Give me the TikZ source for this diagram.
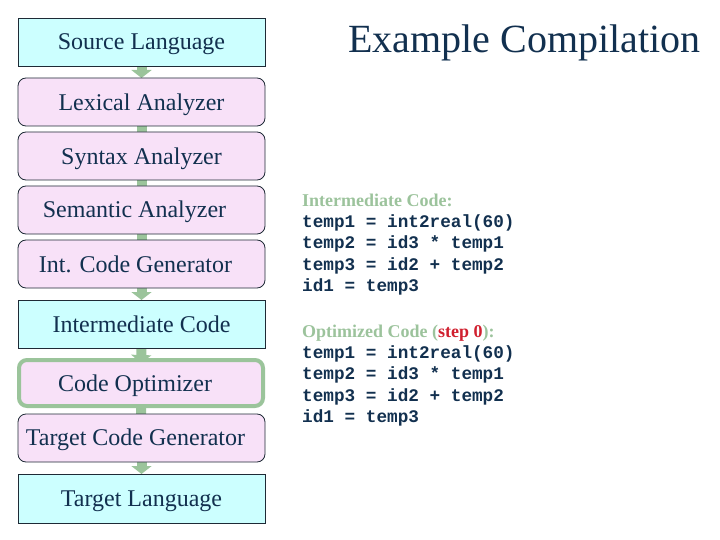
\documentclass[tikz,border=0pt]{standalone}
\usepackage{fontspec}
\setmainfont{Liberation Serif}
\setmonofont{Liberation Mono}
\usetikzlibrary{arrows.meta,backgrounds}
\definecolor{cyanfill}{HTML}{CCFFFF}
\definecolor{pinkfill}{HTML}{F8E1F8}
\definecolor{gflow}{HTML}{9BC49B}
\definecolor{navy}{HTML}{12304F}
\definecolor{boxline}{HTML}{1E2A36}
\definecolor{lblgreen}{HTML}{9CC39C}
\definecolor{stepred}{HTML}{D0202F}
\tikzset{
  box/.style={minimum width=247pt,minimum height=48pt,inner sep=0pt,outer sep=0pt,draw=boxline,line width=0.8pt},
  datbox/.style={box,fill=cyanfill},
  phasebox/.style={box,fill=pinkfill,rounded corners=8pt},
  optbox/.style={box,fill=pinkfill,rounded corners=8pt,draw=gflow,line width=4pt,minimum width=244pt,minimum height=46pt},
  boxtext/.style={anchor=base,font=\fontsize{24}{28}\selectfont,text=navy,inner sep=0pt},
  flow/.style={draw=gflow,line width=10pt,-{Triangle[width=20pt,length=8pt]}},
  code/.style={anchor=base west,inner sep=0pt,font=\ttfamily\bfseries\fontsize{17.7}{21}\selectfont,text=navy},
  codelbl/.style={anchor=base west,inner sep=0pt,font=\bfseries\fontsize{18}{21}\selectfont,text=lblgreen},
}
\begin{document}
\begin{tikzpicture}[x=1pt,y=-1pt]
\useasboundingbox (0,0) rectangle (720,540);
% boxes
\node[datbox] (src) at (141.5,42) {};
\node[phasebox] (lex) at (141.5,102) {};
\node[phasebox] (syn) at (141.5,156) {};
\node[phasebox] (sem) at (141.5,210) {};
\node[phasebox] (icg) at (141.5,264) {};
\node[datbox] (ic) at (141.5,324) {};
\node[optbox] (opt) at (141,383) {};
\node[phasebox] (tcg) at (141.5,438) {};
\node[datbox,minimum height=49pt] (tl) at (141.5,498.5) {};
% box texts
\node[boxtext] (srct) at ([yshift=-8pt]src.center) {Source Language};
\node[boxtext] (lext) at ([yshift=-9pt]lex.center) {Lexical Analyzer};
\node[boxtext] (synt) at ([yshift=-9pt]syn.center) {Syntax Analyzer};
\node[boxtext] (semt) at ([xshift=-7pt,yshift=-8pt]sem.center) {Semantic Analyzer};
\node[boxtext] (icgt) at ([xshift=-6pt,yshift=-8pt]icg.center) {Int. Code Generator};
\node[boxtext] (ict) at ([yshift=-8pt]ic.center) {Intermediate Code};
\node[boxtext] (optt) at ([xshift=-6pt,yshift=-8.5pt]opt.center) {Code Optimizer};
\node[boxtext] (tcgt) at ([xshift=-6pt,yshift=-7.5pt]tcg.center) {Target Code Generator};
\node[boxtext] (tlt) at ([yshift=-8pt]tl.center) {Target Language};
% flow arrows behind boxes
\begin{pgfonlayer}{background}
\draw[flow] (src.south) -- (lex.north);
\draw[flow] (lex.south) -- ([yshift=-12pt]syn.north);
\draw[flow] (syn.south) -- ([yshift=-12pt]sem.north);
\draw[flow] (sem.south) -- ([yshift=-12pt]icg.north);
\draw[flow] (icg.south) -- (ic.north);
\draw[flow] (ic.south) -- ([yshift=-3pt]opt.north);
\draw[flow] (opt.south) -- ([yshift=-12pt]tcg.north);
\draw[flow] (tcg.south) -- (tl.north);
\end{pgfonlayer}
% title
\node[anchor=base,inner sep=0pt,font=\fontsize{40}{44}\selectfont,text=navy] (title) at (524.5,53) {Example Compilation};
% code blocks
\node[codelbl] (l1) at (302,207) {Intermediate Code:};
\node[code] (c1) at (302,227) {temp1 = int2real(60)};
\node[code] (c2) at (302,248.5) {temp2 = id3 * temp1};
\node[code] (c3) at (302,270) {temp3 = id2 + temp2};
\node[code] (c4) at (302,291.5) {id1 = temp3};
\node[codelbl] (l2) at (302,337) {Optimized Code (\textcolor{stepred}{step 0}):};
\node[code] (d1) at (302,358) {temp1 = int2real(60)};
\node[code] (d2) at (302,379.5) {temp2 = id3 * temp1};
\node[code] (d3) at (302,401) {temp3 = id2 + temp2};
\node[code] (d4) at (302,422.5) {id1 = temp3};
\end{tikzpicture}
\end{document}
